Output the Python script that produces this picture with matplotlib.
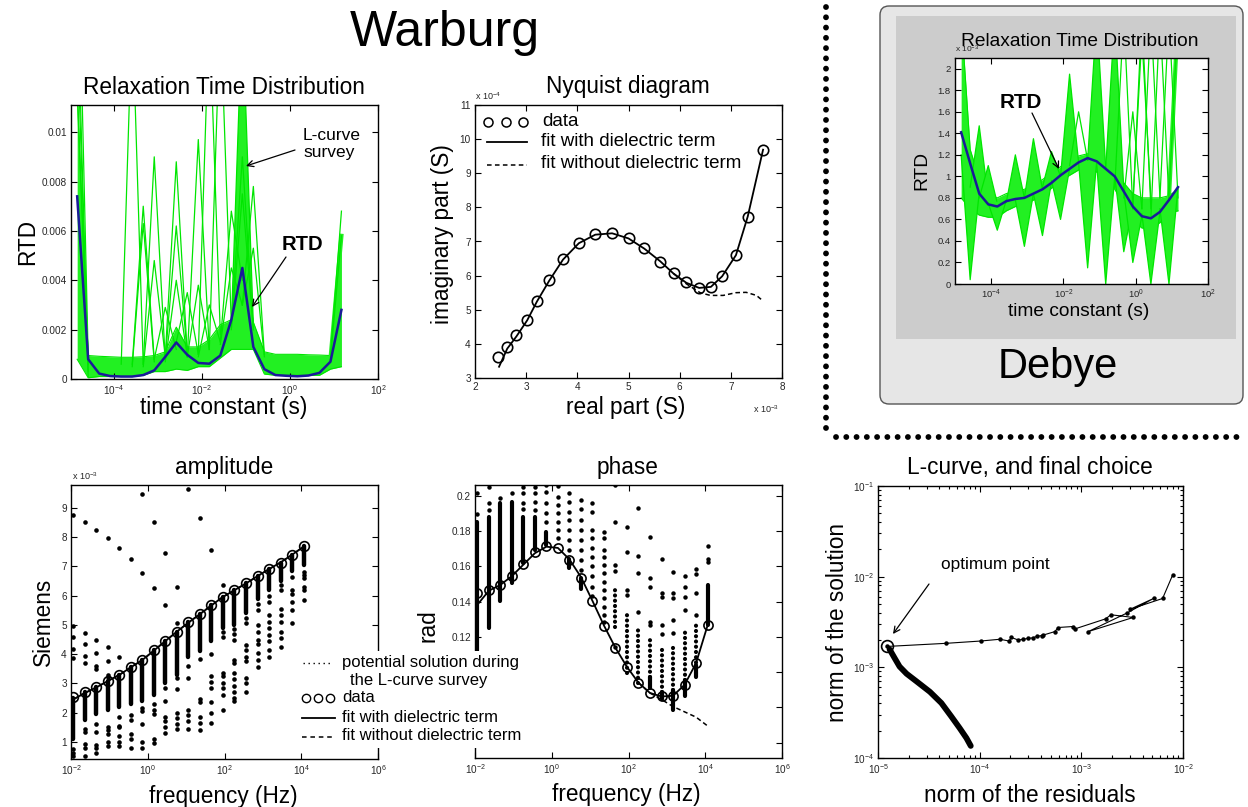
import numpy as np
import matplotlib
matplotlib.use("Agg")
import matplotlib.pyplot as plt
from matplotlib.patches import Rectangle, FancyBboxPatch, FancyArrowPatch
from matplotlib.lines import Line2D
from matplotlib.ticker import (FixedLocator, FuncFormatter, NullLocator,
                               NullFormatter, LogFormatterSciNotation, LogLocator)

# ---------------------------------------------------------------- data
# relaxation-time grid (log10 of tau in s)
log_tau = [-4.83, -4.58, -4.33, -4.08, -3.83, -3.58, -3.33, -3.08, -2.83, -2.58,
           -2.33, -2.08, -1.83, -1.58, -1.33, -1.08, -0.83, -0.58, -0.33, -0.08,
           0.17, 0.42, 0.67, 0.92, 1.17]

# Warburg RTD (x1e-3)
rtd_warburg = [7.4, 0.8, 0.22, 0.12, 0.10, 0.10, 0.16, 0.35, 0.9, 1.48, 0.98, 0.65, 0.62,
               0.95, 2.4, 4.5, 1.3, 0.4, 0.16, 0.13, 0.11, 0.14, 0.25, 0.7, 2.8]
# envelope of the L-curve survey solutions (x1e-3)
warb_band_lo = [0.8, 0.05, 0.1, 0.1, 0.1, 0.1, 0.15, 0.3, 0.3, 0.4, 0.35, 0.5, 0.5,
                0.85, 1.2, 1.2, 1.2, 0.2, 0.15, 0.15, 0.15, 0.15, 0.15, 0.4, 0.5]
warb_band_hi = [11.5, 0.95, 0.92, 0.9, 0.88, 0.88, 0.9, 0.95, 1.1, 2.1, 1.3, 1.3, 1.6,
                2.2, 2.4, 5.0, 2.3, 1.1, 1.0, 1.0, 1.0, 0.98, 0.97, 0.95, 5.8]
# single survey solutions with spikes: (index, left value, peak, right value)
warb_spikes = [(0, None, 20.0, 0.9), (0, None, 14.0, 0.6), (0, None, 12.0, 0.3),
               (0, None, 16.0, 0.1), (5, 0.6, 15.0, 0.6),
               (6, 0.6, 7.0, 0.8), (6, 0.5, 6.3, 0.7), (7, 0.6, 9.0, 0.8),
               (7, 0.5, 4.8, 0.9), (8, 0.8, 2.9, 1.2), (9, 0.9, 8.8, 1.0),
               (9, 0.8, 6.2, 1.0), (9, 0.7, 4.0, 0.9), (10, 1.5, 3.5, 1.0),
               (11, 0.9, 9.7, 1.2), (11, 0.9, 3.8, 1.2), (12, 1.0, 15.0, 1.8),
               (12, 0.9, 3.0, 1.5), (13, 1.2, 15.0, 2.2), (14, 1.5, 6.8, 4.0),
               (14, 1.4, 4.5, 3.0), (15, 2.2, 9.0, 2.0), (15, 2.0, 7.5, 2.0),
               (16, 3.0, 7.8, 1.0), (16, 3.0, 5.3, 0.9), (24, 0.9, 6.8, None)]
warb_fans = [(15, 2.2, 15.0, 2.2), (24, 0.8, 5.8, None)]

# Debye RTD (x1e-3)
rtd_debye = [1.41, 1.12, 0.84, 0.74, 0.72, 0.77, 0.79, 0.80, 0.84, 0.88, 0.94, 1.01, 1.07,
             1.13, 1.17, 1.14, 1.07, 1.00, 0.86, 0.72, 0.63, 0.61, 0.67, 0.78, 0.90]
deb_band_lo = [0.8, 0.7, 0.64, 0.62, 0.62, 0.68, 0.72, 0.74, 0.78, 0.82, 0.89, 0.96, 1.01,
               1.06, 1.08, 1.04, 0.97, 0.88, 0.74, 0.6, 0.52, 0.52, 0.57, 0.66, 0.68]
deb_band_hi = [2.5, 1.25, 0.98, 0.84, 0.8, 0.84, 0.86, 0.88, 0.92, 0.97, 1.03, 1.09, 1.14,
               1.19, 1.21, 1.19, 1.13, 1.06, 0.94, 0.84, 0.8, 0.8, 0.8, 0.82, 0.88]
deb_fans = [(1, 1.2, 0.04, 0.85), (2, 0.9, 1.47, 0.8), (3, 0.8, 1.10, 0.75),
            (4, 0.75, 0.5, 0.78), (6, 0.76, 1.2, 0.8), (7, 0.78, 0.35, 0.84),
            (8, 0.8, 1.35, 0.88), (9, 0.84, 0.45, 0.95), (10, 0.9, 1.23, 1.0),
            (11, 0.96, 0.6, 1.07), (12, 1.0, 1.95, 1.13), (14, 1.12, 0.15, 1.14),
            (15, 1.15, 2.5, 1.08), (16, 1.12, 0.0, 1.0), (17, 1.07, 2.5, 0.88),
            (18, 1.0, 0.3, 0.72), (19, 0.86, 0.2, 0.63), (21, 0.65, 0.0, 0.67),
            (23, 0.7, 0.0, 0.9), (24, 0.8, 2.5, None)]
deb_spikes = [(18, 0.9, 2.5, 0.7), (19, 0.8, 1.6, 0.7), (20, 0.7, 2.5, 0.7),
              (21, 0.7, 2.5, 0.8), (22, 0.62, 2.5, 0.78), (20, 0.75, 2.3, 0.8),
              (23, 0.8, 2.5, 0.8), (13, 1.1, 1.6, 1.15)]

# Nyquist diagram: real (x1e-3 S), imaginary (x1e-4 S)
nyq_re = [2.45, 2.63, 2.81, 3.02, 3.21, 3.45, 3.72, 4.03, 4.35, 4.68, 5.00, 5.31, 5.62,
          5.88, 6.13, 6.38, 6.61, 6.83, 7.10, 7.33, 7.63]
nyq_im = [3.61, 3.90, 4.25, 4.71, 5.27, 5.87, 6.49, 6.96, 7.22, 7.25, 7.10, 6.80, 6.41,
          6.07, 5.81, 5.65, 5.67, 5.98, 6.60, 7.73, 9.69]
nyq_fit_re = [2.47, 2.63, 2.81, 3.02, 3.21, 3.45, 3.72, 4.03, 4.35, 4.68, 5.00, 5.31,
              5.62, 5.88, 6.13, 6.38, 6.61, 6.83, 7.10, 7.33, 7.63]
nyq_fit_im = [3.33, 3.86, 4.22, 4.69, 5.24, 5.85, 6.47, 6.95, 7.20, 7.24, 7.09, 6.79,
              6.42, 6.06, 5.79, 5.64, 5.67, 5.98, 6.60, 7.73, 9.69]
nyq_nodiel_re = [5.88, 6.13, 6.40, 6.60, 6.85, 7.10, 7.30, 7.50, 7.62]
nyq_nodiel_im = [6.06, 5.76, 5.50, 5.42, 5.42, 5.50, 5.51, 5.42, 5.27]

# frequency grid (log10 Hz)
log_freq = [-1.94, -1.64, -1.34, -1.04, -0.74, -0.44, -0.14, 0.16, 0.46, 0.76, 1.06,
            1.36, 1.66, 1.96, 2.26, 2.56, 2.86, 3.16, 3.46, 3.76, 4.06]

# amplitude (x1e-3 S)
amp_data = [2.52, 2.69, 2.86, 3.09, 3.28, 3.55, 3.80, 4.13, 4.46, 4.77, 5.09, 5.37, 5.68,
            5.97, 6.19, 6.42, 6.67, 6.91, 7.13, 7.39, 7.70]
amp_fit = [2.45, 2.67, 2.86, 3.08, 3.29, 3.55, 3.80, 4.12, 4.45, 4.77, 5.08, 5.37, 5.67,
           5.96, 6.19, 6.42, 6.67, 6.91, 7.14, 7.40, 7.68]
amp_dense = [(1.1, 2.5), (1.75, 2.69), (1.95, 2.86), (2.1, 3.09), (2.2, 3.28), (2.3, 3.55),
             (2.4, 3.8), (2.6, 4.13), (3.0, 4.46), (3.3, 4.77), (3.9, 5.09), (4.1, 5.37),
             (4.45, 5.68), (4.9, 5.97), (5.0, 6.19), (5.4, 6.42), (5.9, 6.67), (6.2, 6.91),
             (6.5, 7.13), (6.85, 7.39), (7.05, 7.7)]
amp_sparse = [[8.77, 4.95, 4.6, 4.18, 3.87, 0.75, 0.6, 0.5],
              [8.51, 4.72, 4.35, 3.92, 3.71, 1.45, 1.35, 0.92, 0.8, 0.5],
              [8.25, 4.5, 4.05, 3.6, 3.5, 1.6, 1.35, 0.9, 0.8, 0.6],
              [7.99, 4.25, 3.75, 3.3, 3.22, 1.5, 1.4, 1.25, 1.0, 0.85],
              [7.63, 3.9, 1.85, 1.55, 1.5, 1.2, 1.0, 0.85],
              [7.25, 1.9, 1.75, 1.25, 1.1, 0.8],
              [9.47, 6.78, 2.15, 2.05, 1.6, 1.0, 0.8],
              [8.51, 6.25, 2.3, 2.1, 1.95, 1.1, 0.95],
              [7.45, 5.67, 2.85, 2.4, 1.85, 1.7, 1.5, 1.3],
              [6.3, 5.05, 3.2, 2.8, 2.0, 1.8, 1.6, 1.45],
              [9.65, 3.6, 3.2, 2.1, 1.9, 1.7, 1.45],
              [8.66, 3.85, 2.45, 2.35, 1.85, 1.65, 1.4],
              [7.55, 4.0, 3.25, 3.05, 2.85, 2.35, 2.0, 1.65],
              [6.37, 4.75, 4.6, 3.35, 3.25, 3.0, 2.85, 2.6, 2.1],
              [4.85, 4.7, 4.5, 3.8, 3.7, 3.35, 3.15, 2.9, 2.7, 2.5, 2.4],
              [5.25, 5.05, 4.3, 4.15, 3.9, 3.75, 3.2, 3.0, 2.7],
              [5.7, 5.5, 5.0, 4.75, 4.5, 4.35, 4.05, 3.8, 3.55],
              [6.0, 5.8, 5.35, 5.1, 4.9, 4.65, 4.45, 4.15, 3.9],
              [6.35, 6.2, 5.55, 5.35, 5.1, 4.75, 4.55, 4.25],
              [6.65, 6.2, 6.05, 5.8, 5.5, 5.05],
              [6.8, 6.7, 6.6, 6.3, 6.2, 5.85]]

# phase (rad)
phase_data = [0.1448, 0.1467, 0.1495, 0.1548, 0.1614, 0.1680, 0.1718, 0.1703, 0.1637,
              0.1537, 0.1403, 0.1263, 0.1136, 0.1028, 0.0938, 0.0881, 0.0862, 0.0866,
              0.0928, 0.1051, 0.1265]
phase_fit = [0.1382, 0.1462, 0.1495, 0.1545, 0.1610, 0.1675, 0.1712, 0.1705, 0.1640,
             0.1540, 0.1405, 0.1265, 0.1138, 0.1030, 0.0940, 0.0882, 0.0862, 0.0866,
             0.0928, 0.1051, 0.1265]
phase_nodiel = [0.0940, 0.0882, 0.0845, 0.0805, 0.0775, 0.0745, 0.0695]  # indices 14..20
phase_solid = [(0, 0.105, 0.185), (1, 0.125, 0.188), (2, 0.1406, 0.196),
               (3, 0.1505, 0.1968), (4, 0.1618, 0.1883), (5, 0.1694, 0.1883),
               (6, 0.172, 0.1798), (8, 0.159, 0.164), (9, 0.147, 0.1533),
               (15, 0.0911, 0.0975), (16, 0.0845, 0.089), (17, 0.0786, 0.09),
               (18, 0.0862, 0.0956), (19, 0.0975, 0.104), (20, 0.1265, 0.1495)]
phase_chain = [(12, 0.1259, 0.1476), (13, 0.0994, 0.1344), (14, 0.0938, 0.125),
               (15, 0.0975, 0.1183), (16, 0.089, 0.1145), (17, 0.09, 0.1145),
               (18, 0.0956, 0.124), (19, 0.0994, 0.1287)]
phase_sparse = [[0.2015, 0.19], [0.2053, 0.1958, 0.192], [0.1987], [0.2015],
                [0.2053, 0.2015, 0.196, 0.1924], [0.2053, 0.2015, 0.1968, 0.192],
                [0.2062, 0.2025, 0.196, 0.1902, 0.1854],
                [0.2057, 0.1996, 0.1949, 0.1902, 0.1854, 0.1807, 0.176],
                [0.2015, 0.1968, 0.1911, 0.1864, 0.1807, 0.175, 0.1694],
                [0.1977, 0.1924, 0.1864, 0.1807, 0.175, 0.1694, 0.1637, 0.158],
                [0.1958, 0.1911, 0.1807, 0.176, 0.1703, 0.1656, 0.16, 0.1543, 0.1486, 0.143],
                [0.1798, 0.176, 0.1694, 0.1656, 0.1609, 0.1561, 0.1514, 0.1467, 0.142,
                 0.1372, 0.1325, 0.1287],
                [0.2062, 0.1854, 0.161, 0.1576, 0.1145],
                [0.1822, 0.1684, 0.1467, 0.1438],
                [0.193, 0.166, 0.1562, 0.1344],
                [0.1766, 0.1533, 0.1482, 0.1287, 0.1268],
                [0.1643, 0.1448, 0.1429, 0.1268, 0.1217],
                [0.1571, 0.1448, 0.142, 0.1297, 0.1221],
                [0.1546, 0.1482, 0.1429, 0.1353],
                [0.1584, 0.1558, 0.1448, 0.1325],
                [0.1716, 0.164, 0.1627]]

# L-curve
lc_res_up = [1.23e-5, 4.68e-5, 1.02e-4, 1.58e-4, 1.95e-4, 2.04e-4, 2.40e-4, 2.69e-4,
             3.02e-4, 3.31e-4, 3.63e-4, 4.07e-4, 4.17e-4, 5.5e-4, 5.9e-4, 8.3e-4, 8.7e-4,
             1.74e-3, 1.95e-3, 3.24e-3, 1.17e-3, 2.82e-3, 5.13e-3, 3.02e-3, 6.3e-3, 7.9e-3]
lc_sol_up = [1.70e-3, 1.84e-3, 1.95e-3, 2.04e-3, 1.95e-3, 2.14e-3, 2.0e-3, 2.04e-3,
             2.09e-3, 2.11e-3, 2.19e-3, 2.24e-3, 2.26e-3, 2.48e-3, 2.75e-3, 2.82e-3, 2.66e-3,
             3.43e-3, 3.80e-3, 3.55e-3, 2.48e-3, 3.98e-3, 5.75e-3, 4.37e-3, 5.75e-3, 1.04e-2]
lc_res_low = [1.30e-5, 1.46e-5, 1.63e-5, 1.91e-5, 2.40e-5, 3.24e-5, 4.20e-5, 5.25e-5,
              6.35e-5, 7.41e-5, 8.17e-5]
lc_sol_low = [1.58e-3, 1.26e-3, 1.02e-3, 8.5e-4, 6.98e-4, 5.37e-4, 4.04e-4, 2.88e-4,
              2.14e-4, 1.66e-4, 1.36e-4]
lc_opt_res = [1.23e-5]
lc_opt_sol = [1.70e-3]

# ---------------------------------------------------------------- style
plt.rcParams['font.family'] = ['Liberation Sans', 'DejaVu Sans']
plt.rcParams['mathtext.fontset'] = 'custom'
plt.rcParams['mathtext.rm'] = 'Liberation Sans'
plt.rcParams['mathtext.it'] = 'Liberation Sans:italic'
plt.rcParams['mathtext.bf'] = 'Liberation Sans:bold'
plt.rcParams['mathtext.default'] = 'regular'

W, H = 1248, 807
fig = plt.figure(figsize=(W / 100, H / 100), dpi=100)

GREEN = '#00e600'
GREEN_FILL = '#22f022'
NAVY = '#1a1a9a'
LBL = 16.3
TICKC = '#262626'


def fx(px):
    return px / W


def fy(py):
    return 1 - py / H


def add_ax(l, t, r, b, **kw):
    return fig.add_axes([fx(l), fy(b), (r - l) / W, (b - t) / H], **kw)


def style(ax, size=7.2):
    ax.tick_params(which='both', direction='in', top=True, right=True,
                   labelsize=size, labelcolor=TICKC, width=0.8, pad=3)
    ax.tick_params(which='major', length=4)
    ax.tick_params(which='minor', length=2)
    for s in ax.spines.values():
        s.set_linewidth(1.0)


def T(px, py, s, size=LBL, rot=0, ha='center', **kw):
    fig.text(fx(px), fy(py), s, fontsize=size, rotation=rot, ha=ha, va='center', **kw)


def arrow(x0, y0, x1, y1):
    fig.add_artist(FancyArrowPatch((fx(x0), fy(y0)), (fx(x1), fy(y1)),
                                   transform=fig.transFigure, arrowstyle='->',
                                   mutation_scale=11, lw=0.9, color='k', zorder=6,
                                   shrinkA=0, shrinkB=0))


gfmt = FuncFormatter(lambda v, p: f"{v:g}")
logfmt = LogFormatterSciNotation()


def draw_survey(ax, tau, lo, hi, fans, spikes, rtd):
    lo = np.array(lo) * 1e-3
    hi = np.array(hi) * 1e-3
    ax.fill_between(tau, lo, hi, color=GREEN_FILL, lw=0, zorder=1)
    ax.plot(tau, hi, color=GREEN, lw=0.8, zorder=1)
    ax.plot(tau, lo, color=GREEN, lw=0.8, zorder=1)
    for group, filled in ((fans, True), (spikes, False)):
        for k, left, peak, right in group:
            xs, ys = [], []
            if left is not None:
                xs.append(tau[k - 1]); ys.append(left * 1e-3)
            xs.append(tau[k]); ys.append(peak * 1e-3)
            if right is not None:
                xs.append(tau[k + 1]); ys.append(right * 1e-3)
            if filled and len(xs) == 3:
                ax.fill(xs, ys, color=GREEN_FILL, lw=0, zorder=1)
            elif filled:
                ax.plot(xs, ys, color=GREEN_FILL, lw=3, zorder=1)
            ax.plot(xs, ys, color=GREEN, lw=0.9, zorder=1)
    ax.plot(tau, np.array(rtd) * 1e-3, color=NAVY, lw=1.8, zorder=3)


tau = 10.0 ** np.array(log_tau)
freq = 10.0 ** np.array(log_freq)

# ---------------------------------------------------------------- separators & titles
T(445, 33, 'Warburg', size=36)
fig.add_artist(Line2D([fx(826), fx(826)], [fy(7), fy(437)], transform=fig.transFigure,
                      color='k', lw=4.2, ls=(0, (0.01, 1.75)), dash_capstyle='round'))
fig.add_artist(Line2D([fx(836), fx(1246)], [fy(437), fy(437)], transform=fig.transFigure,
                      color='k', lw=4.2, ls=(0, (0.01, 1.75)), dash_capstyle='round'))

# Debye frame
fig.add_artist(FancyBboxPatch((8.80, (H - 404) / 100), 3.63, 3.98,
                              boxstyle='round,pad=0,rounding_size=0.09',
                              transform=fig.dpi_scale_trans, facecolor='#e6e6e6',
                              edgecolor='#555555', lw=1.0, zorder=-2))
fig.add_artist(Rectangle((8.96, (H - 339) / 100), 3.40, 3.23,
                         transform=fig.dpi_scale_trans, facecolor='#cccccc',
                         edgecolor='none', zorder=-1))
T(1058, 367, 'Debye', size=30)

# ---------------------------------------------------------------- panel 1: Warburg RTD
ax1 = add_ax(71, 105, 378, 379)
style(ax1)
ax1.set_xscale('log')
draw_survey(ax1, tau, warb_band_lo, warb_band_hi, warb_fans, warb_spikes, rtd_warburg)
ax1.set_xlim(10 ** -4.97, 1e2)
ax1.set_ylim(0, 0.0111)
ax1.xaxis.set_major_locator(FixedLocator([1e-4, 1e-2, 1e0, 1e2]))
ax1.xaxis.set_major_formatter(logfmt)
ax1.xaxis.set_minor_locator(NullLocator())
ax1.yaxis.set_major_locator(FixedLocator([0, 0.002, 0.004, 0.006, 0.008, 0.01]))
ax1.yaxis.set_major_formatter(gfmt)
T(224, 87, 'Relaxation Time Distribution')
T(224, 408, 'time constant (s)')
T(28, 242, 'RTD', rot=90)
T(303, 135, 'L-curve', size=12.5, ha='left')
T(303, 153, 'survey', size=12.5, ha='left')
arrow(295, 150, 246, 166)
T(302, 245, 'RTD', size=14.6, weight='bold')
arrow(286, 257, 252, 307)

# ---------------------------------------------------------------- panel 2: Nyquist
ax2 = add_ax(475, 105, 782, 378)
style(ax2)
ax2.plot(nyq_fit_re, nyq_fit_im, color='k', lw=1.3)
ax2.plot(nyq_nodiel_re, nyq_nodiel_im, color='k', lw=1.1, ls=(0, (3, 2)))
ax2.plot(nyq_re, nyq_im, 'o', mfc='none', mec='k', ms=7.5, mew=1.2)
ax2.set_xlim(2, 8)
ax2.set_ylim(3, 11)
ax2.xaxis.set_major_locator(FixedLocator(range(2, 9)))
ax2.yaxis.set_major_locator(FixedLocator(range(3, 12)))
T(628, 86, 'Nyquist diagram')
T(626, 408, 'real part (S)')
T(442, 234, 'imaginary part (S)', rot=90)
T(475, 96, r'x 10$^{-4}$', size=6.5, ha='left', color=TICKC)
T(753, 409, r'x 10$^{-3}$', size=6.5, ha='left', color=TICKC)
fig.add_artist(Line2D([fx(488), fx(506), fx(523)], [fy(122)] * 3, transform=fig.transFigure,
                      ls='none', marker='o', mfc='none', mec='k', ms=6.5, mew=1.1))
fig.add_artist(Line2D([fx(487), fx(527)], [fy(142)] * 2, transform=fig.transFigure,
                      color='k', lw=1.3))
fig.add_artist(Line2D([fx(487), fx(527)], [fy(165)] * 2, transform=fig.transFigure,
                      color='k', lw=1.1, ls=(0, (3, 2.2))))
T(542, 122, 'data', size=13.5, ha='left')
T(541, 142, 'fit with dielectric term', size=13.5, ha='left')
T(541, 163, 'fit without dielectric term', size=13.5, ha='left')

# ---------------------------------------------------------------- panel 3: Debye RTD
ax3 = add_ax(955, 58, 1208, 284, zorder=2)
style(ax3, size=6.8)
ax3.set_xscale('log')
draw_survey(ax3, tau, deb_band_lo, deb_band_hi, deb_fans, deb_spikes, rtd_debye)
ax3.set_xlim(1e-5, 1e2)
ax3.set_ylim(0, 2.1e-3)
ax3.xaxis.set_major_locator(FixedLocator([1e-4, 1e-2, 1e0, 1e2]))
ax3.xaxis.set_major_formatter(logfmt)
ax3.xaxis.set_minor_locator(NullLocator())
ax3.yaxis.set_major_locator(FixedLocator([i * 0.2e-3 for i in range(11)]))
ax3.yaxis.set_major_formatter(FuncFormatter(lambda v, p: f"{v * 1e3:g}"))
T(1080, 42, 'Relaxation Time Distribution', size=13.8)
T(1079, 312, 'time constant (s)', size=13.8)
T(922, 171, 'RTD', size=13.8, rot=90)
T(955, 49, r'x 10$^{-3}$', size=6.0, ha='left', color=TICKC)
T(1021, 102, 'RTD', size=14.9, weight='bold')
arrow(1032, 113, 1059, 169)

# ---------------------------------------------------------------- panel 4: amplitude
ax4 = add_ax(71, 485, 378, 759, zorder=3)
style(ax4)
ax4.set_xscale('log')
for f, (lo, hi) in zip(freq, amp_dense):
    lc = ax4.vlines(f, lo, hi, colors='k', lw=3.2)
    lc.set_capstyle('round')
for f, vals in zip(freq, amp_sparse):
    ax4.plot([f] * len(vals), vals, 'o', color='k', ms=3.3, mew=0)
ax4.plot(freq, amp_fit, color='k', lw=1.3)
ax4.plot(freq, amp_fit, color='k', lw=1.1, ls=(0, (3, 2)))
ax4.plot(freq, amp_data, 'o', mfc='none', mec='k', ms=7, mew=1.2)
ax4.set_xlim(1e-2, 1e6)
ax4.set_ylim(0.41, 9.79)
ax4.xaxis.set_major_locator(FixedLocator([1e-2, 1e0, 1e2, 1e4, 1e6]))
ax4.xaxis.set_major_formatter(logfmt)
ax4.xaxis.set_minor_locator(NullLocator())
ax4.yaxis.set_major_locator(FixedLocator(range(1, 10)))
T(224, 467, 'amplitude')
T(223, 796, 'frequency (Hz)')
T(43, 622, 'Siemens', rot=90)
T(72, 476, r'x 10$^{-3}$', size=6.5, ha='left', color=TICKC)

# ---------------------------------------------------------------- panel 5: phase
ax5 = add_ax(475, 485, 782, 758, zorder=1)
style(ax5)
ax5.set_xscale('log')
for k, lo, hi in phase_solid:
    lc = ax5.vlines(freq[k], lo, hi, colors='k', lw=3.0)
    lc.set_capstyle('round')
for k, lo, hi in phase_chain:
    lc = ax5.vlines(freq[k], lo, hi, colors='k', lw=3.0, linestyles=[(0, (0.01, 1.25))])
    lc.set_capstyle('round')
for f, vals in zip(freq, phase_sparse):
    ax5.plot([f] * len(vals), vals, 'o', color='k', ms=3.2, mew=0)
ax5.plot(freq, phase_fit, color='k', lw=1.3)
ax5.plot(freq[14:], phase_nodiel, color='k', lw=1.1, ls=(0, (3, 2)))
ax5.plot(freq, phase_data, 'o', mfc='none', mec='k', ms=6.6, mew=1.2)
ax5.set_xlim(1e-2, 1e6)
ax5.set_ylim(0.0513, 0.2062)
ax5.xaxis.set_major_locator(FixedLocator([1e-2, 1e0, 1e2, 1e4, 1e6]))
ax5.xaxis.set_major_formatter(logfmt)
ax5.xaxis.set_minor_locator(NullLocator())
ax5.yaxis.set_major_locator(FixedLocator([0.06, 0.08, 0.10, 0.12, 0.14, 0.16, 0.18, 0.20]))
ax5.yaxis.set_major_formatter(gfmt)
T(628, 467, 'phase')
T(626, 795, 'frequency (Hz)')
T(428, 626, 'rad', rot=90)

# amplitude legend (spans into phase panel)
fig.add_artist(Rectangle((fx(298), fy(748)), (532 - 298) / W, (748 - 651) / H,
                         transform=fig.transFigure, facecolor='white', edgecolor='none',
                         zorder=10))
fig.add_artist(Line2D([fx(303), fx(330)], [fy(663)] * 2, transform=fig.transFigure,
                      color='k', lw=1.0, ls=(0, (1, 2.6)), zorder=11))
fig.add_artist(Line2D([fx(306), fx(318), fx(330)], [fy(698)] * 3, transform=fig.transFigure,
                      ls='none', marker='o', mfc='none', mec='k', ms=6, mew=1.0, zorder=11))
fig.add_artist(Line2D([fx(302), fx(335)], [fy(718)] * 2, transform=fig.transFigure,
                      color='k', lw=1.3, zorder=11))
fig.add_artist(Line2D([fx(302), fx(335)], [fy(737)] * 2, transform=fig.transFigure,
                      color='k', lw=1.1, ls=(0, (3, 2.5)), zorder=11))
for py, s, x0 in ((663, 'potential solution during', 342), (681, 'the L-curve survey', 350),
                  (698, 'data', 342), (717, 'fit with dielectric term', 342),
                  (736, 'fit without dielectric term', 342)):
    fig.text(fx(x0), fy(py), s, fontsize=12, ha='left', va='center', zorder=12)

# ---------------------------------------------------------------- panel 6: L-curve
ax6 = add_ax(878, 486, 1183, 758)
style(ax6)
ax6.set_xscale('log')
ax6.set_yscale('log')
ax6.plot(lc_res_low, lc_sol_low, color='k', lw=4.2, solid_capstyle='round')
ax6.plot(lc_res_up, lc_sol_up, color='k', lw=0.8, marker='o', ms=3.2, mew=0)
ax6.plot(lc_opt_res, lc_opt_sol, 'o', mfc='none', mec='k', ms=8.5, mew=1.2)
ax6.set_xlim(1e-5, 1e-2)
ax6.set_ylim(1e-4, 1e-1)
for axis in (ax6.xaxis, ax6.yaxis):
    axis.set_major_locator(LogLocator(base=10, numticks=10))
    axis.set_major_formatter(logfmt)
    axis.set_minor_locator(LogLocator(base=10, subs=np.arange(2, 10), numticks=20))
    axis.set_minor_formatter(NullFormatter())
T(1030, 467, 'L-curve, and final choice')
T(1030, 795, 'norm of the residuals')
T(838, 622, 'norm of the solution', rot=90)
T(941, 565, 'optimum point', size=12.4, ha='left')
arrow(929, 584, 893, 634)

fig.savefig('out.png', dpi=100)
